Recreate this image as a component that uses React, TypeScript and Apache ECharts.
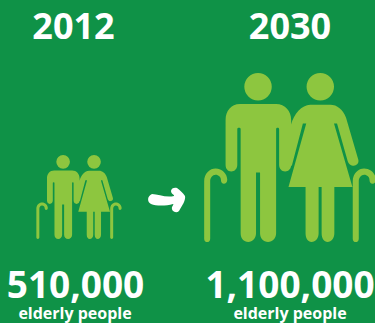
import React, { useEffect, useRef } from "react";
import * as echarts from "echarts";

const years = ["2012", "2030"];
const elderly = [510000, 1100000];
const valueLabels = ["510,000", "1,100,000"];
const unitLabel = "elderly people";

const GREEN = "#0f9247";
const LIME = "#8dc63f";

// Couple with walking canes, drawn in its own 513x505 design space.
const coupleIcon =
  "M135 134L243 134C270 134 288 155 288 182L288 315C288 327 280 335 270 335C260 335 252 327 252 315L252 208C252 203 243 203 243 208L243 520C243 535 232 546 219 546C205 546 195 535 195 520L195 338L183 338L183 520C183 535 172 546 160 546C146 546 137 535 137 520L137 208C137 203 127 203 127 208L127 315C127 327 119 335 109 335C99 335 92 327 92 315L92 182C92 155 108 134 135 134Z" +
  "M230 82A41 41 0 1 1 148 82A41 41 0 1 1 230 82Z" +
  "M416 82A41 41 0 1 1 334 82A41 41 0 1 1 416 82Z" +
  "M345 136L405 136C425 136 443 150 452 175L488 298C492 310 485 316 475 318C466 320 460 313 457 305L425 192L416 192L471 382L417 382L417 520C417 535 408 546 397 546C386 546 379 535 379 520L379 382L370 382L370 520C370 535 361 546 349 546C338 546 331 535 331 520L331 382L280 382L333 192L323 192L290 318L288 318L288 195C295 165 320 136 345 136Z" +
  "M28 536L28 365C28 340 45 326 62 326C82 326 97 342 97 360C97 368 92 372 87 372C82 372 78 368 78 360C78 352 71 345 62 345C53 345 46 354 46 365L46 536C46 543 42 546 37 546C32 546 28 543 28 536Z" +
  "M472 536L472 365C472 340 489 326 506 326C526 326 541 342 541 360C541 368 536 372 531 372C526 372 522 368 522 360C522 352 515 345 506 345C497 345 490 354 490 365L490 536C490 543 486 546 481 546C476 546 472 543 472 536Z";

// Hand-brushed arrow between the two figures.
const arrowShape =
  "M152 194C158 194 166 198 174 196C175 195 171 194 171 191C171 188 175 187 177 188C180 190 183 193 185 196C186 200 182 206 179 211C176 214 171 211 172 207C173 205 174 204 173 204C166 206 156 206 151 204C147 202 147 196 152 194Z";
echarts.graphic.registerShape("brushArrow", echarts.graphic.extendPath(arrowShape, {}));

export default function App() {
  const ref = useRef<HTMLDivElement>(null);

  useEffect(() => {
    if (!ref.current) return;
    const chart = echarts.init(ref.current, undefined, { renderer: "svg" });

    const textCommon = {
      fill: "#ffffff",
      fontFamily: "Open Sans",
      fontWeight: "bold" as const,
      textAlign: "center" as const,
      textVerticalAlign: "middle" as const,
    };

    chart.setOption({
      animation: false,
      backgroundColor: GREEN,
      grid: { left: 79, right: 85, top: 73, bottom: 84 },
      xAxis: { type: "category", data: years, boundaryGap: false, show: false },
      yAxis: { type: "value", min: -94000, max: 1100000, show: false, splitLine: { show: false } },
      series: [
        {
          type: "custom",
          clip: false,
          data: years.map((y, i) => [y, elderly[i]]),
          renderItem: (params: any, api: any) => {
            const top = api.coord([api.value(0), api.value(1)]);
            const base = api.coord([api.value(0), -94000]);
            // The larger figure stands a little below the common baseline.
            const foot = base[1] + (params.dataIndex === 1 ? 3 : 0);
            const height = foot - top[1];
            const width = (height * 513) / 505;
            return {
              type: "path",
              shape: { pathData: coupleIcon, layout: "cover", x: top[0] - width / 2, y: top[1], width, height },
              style: { fill: LIME },
            };
          },
        },
      ],
      graphic: [
        ...years.map((y, i) => ({
          type: "text",
          x: [73.5, 290][i],
          y: 25,
          style: { ...textCommon, text: y, fontSize: 36, lineHeight: 30 },
        })),
        ...valueLabels.map((t, i) => ({
          type: "text",
          x: [75.5, 290][i],
          y: 283,
          style: { ...textCommon, text: t, fontSize: 37, lineHeight: 28 },
        })),
        ...valueLabels.map((_, i) => ({
          type: "text",
          x: [75, 290][i],
          y: 313,
          style: { ...textCommon, text: unitLabel, fontSize: 16, lineHeight: 16 },
        })),
        { type: "brushArrow", style: { fill: "#ffffff" } },
      ],
    });
    return () => chart.dispose();
  }, []);

  return <div ref={ref} style={{ position: "fixed", left: 0, top: 0, width: 375, height: 323 }} />;
}
